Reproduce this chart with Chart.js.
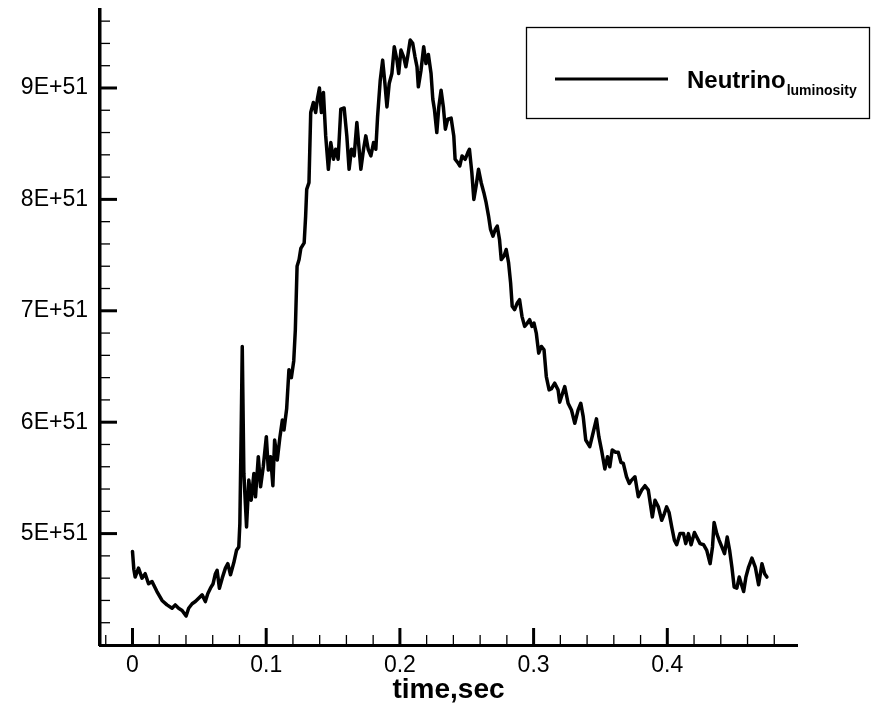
<!DOCTYPE html>
<html>
<head>
<meta charset="utf-8">
<title>Neutrino luminosity</title>
<script src="https://cdn.jsdelivr.net/npm/chart.js@4.4.1/dist/chart.umd.min.js"></script>
<style>
  html, body { margin: 0; padding: 0; background: #fff; }
  #wrap { width: 873px; height: 704px; position: relative; }
</style>
</head>
<body>
<div id="wrap"><canvas id="chart"></canvas></div>
<script>
// time in seconds, luminosity in units of 1E+51
const timeSec = [
  0.0000, 0.0010, 0.0020, 0.0045, 0.0071, 0.0095, 0.0120, 0.0146, 0.0158, 0.0183,
  0.0221, 0.0258, 0.0296, 0.0320, 0.0345, 0.0371, 0.0401, 0.0420, 0.0446, 0.0470,
  0.0495, 0.0521, 0.0545, 0.0563, 0.0583, 0.0603, 0.0620, 0.0633, 0.0650, 0.0671,
  0.0695, 0.0713, 0.0733, 0.0758, 0.0778, 0.0795, 0.0803, 0.0813, 0.0821, 0.0833,
  0.0853, 0.0870, 0.0888, 0.0908, 0.0920, 0.0941, 0.0958, 0.0978, 0.1001, 0.1016,
  0.1033, 0.1050, 0.1063, 0.1083, 0.1103, 0.1121, 0.1133, 0.1153, 0.1170, 0.1188,
  0.1206, 0.1218, 0.1231, 0.1246, 0.1259, 0.1284, 0.1295, 0.1303, 0.1320, 0.1333,
  0.1353, 0.1370, 0.1383, 0.1398, 0.1413, 0.1428, 0.1445, 0.1465, 0.1483, 0.1503,
  0.1520, 0.1538, 0.1558, 0.1583, 0.1603, 0.1620, 0.1638, 0.1658, 0.1678, 0.1695,
  0.1708, 0.1728, 0.1745, 0.1763, 0.1783, 0.1803, 0.1820, 0.1833, 0.1853, 0.1871,
  0.1888, 0.1903, 0.1920, 0.1940, 0.1958, 0.1978, 0.1991, 0.2008, 0.2028, 0.2045,
  0.2058, 0.2077, 0.2096, 0.2113, 0.2128, 0.2138, 0.2158, 0.2178, 0.2195, 0.2213,
  0.2233, 0.2246, 0.2258, 0.2276, 0.2291, 0.2308, 0.2325, 0.2340, 0.2358, 0.2383,
  0.2403, 0.2413, 0.2433, 0.2448, 0.2465, 0.2488, 0.2508, 0.2520, 0.2538, 0.2553,
  0.2570, 0.2588, 0.2608, 0.2628, 0.2645, 0.2663, 0.2678, 0.2696, 0.2713, 0.2728,
  0.2745, 0.2758, 0.2778, 0.2795, 0.2813, 0.2828, 0.2840, 0.2858, 0.2878, 0.2895,
  0.2913, 0.2933, 0.2953, 0.2970, 0.2988, 0.3003, 0.3020, 0.3038, 0.3058, 0.3078,
  0.3095, 0.3116, 0.3133, 0.3158, 0.3183, 0.3195, 0.3233, 0.3258, 0.3283, 0.3308,
  0.3333, 0.3353, 0.3371, 0.3390, 0.3420, 0.3446, 0.3470, 0.3488, 0.3508, 0.3533,
  0.3553, 0.3570, 0.3588, 0.3613, 0.3633, 0.3653, 0.3671, 0.3695, 0.3716, 0.3733,
  0.3758, 0.3783, 0.3808, 0.3833, 0.3858, 0.3888, 0.3908, 0.3933, 0.3958, 0.3978,
  0.3995, 0.4013, 0.4033, 0.4053, 0.4070, 0.4095, 0.4121, 0.4138, 0.4158, 0.4178,
  0.4203, 0.4220, 0.4245, 0.4271, 0.4295, 0.4320, 0.4338, 0.4350, 0.4370, 0.4388,
  0.4408, 0.4428, 0.4448, 0.4466, 0.4483, 0.4500, 0.4520, 0.4538, 0.4553, 0.4571,
  0.4588, 0.4608, 0.4633, 0.4658, 0.4683, 0.4708, 0.4728, 0.4745
]
const lumE51 = [
  4.84, 4.68, 4.61, 4.69, 4.60, 4.64, 4.55, 4.57, 4.54, 4.48,
  4.40, 4.36, 4.33, 4.36, 4.33, 4.31, 4.26, 4.33, 4.37, 4.39,
  4.42, 4.45, 4.39, 4.46, 4.51, 4.55, 4.64, 4.67, 4.51, 4.60,
  4.69, 4.73, 4.63, 4.74, 4.85, 4.88, 5.09, 5.93, 6.68, 5.54,
  5.06, 5.48, 5.30, 5.54, 5.33, 5.69, 5.42, 5.60, 5.87, 5.57,
  5.69, 5.43, 5.84, 5.66, 5.87, 6.02, 5.93, 6.12, 6.47, 6.40,
  6.55, 6.83, 7.40, 7.46, 7.56, 7.61, 7.85, 8.09, 8.15, 8.78,
  8.87, 8.78, 8.90, 9.00, 8.78, 8.96, 8.57, 8.27, 8.51, 8.36,
  8.45, 8.36, 8.81, 8.82, 8.57, 8.27, 8.45, 8.39, 8.69, 8.45,
  8.27, 8.45, 8.57, 8.45, 8.39, 8.51, 8.45, 8.74, 9.07, 9.25,
  9.04, 8.83, 9.04, 9.13, 9.37, 9.25, 9.13, 9.34, 9.28, 9.19,
  9.28, 9.43, 9.40, 9.28, 9.19, 9.01, 9.16, 9.37, 9.22, 9.30,
  9.13, 8.90, 8.81, 8.60, 8.83, 8.98, 8.83, 8.63, 8.72, 8.73,
  8.57, 8.36, 8.33, 8.30, 8.39, 8.36, 8.42, 8.45, 8.24, 8.00,
  8.12, 8.27, 8.15, 8.06, 7.97, 7.85, 7.73, 7.67, 7.73, 7.76,
  7.64, 7.46, 7.49, 7.55, 7.43, 7.25, 7.04, 7.01, 7.07, 7.10,
  6.95, 6.86, 6.89, 6.92, 6.86, 6.89, 6.80, 6.62, 6.68, 6.65,
  6.41, 6.29, 6.30, 6.35, 6.29, 6.18, 6.32, 6.17, 6.11, 5.99,
  6.11, 6.17, 6.05, 5.84, 5.78, 5.91, 6.03, 5.87, 5.75, 5.58,
  5.69, 5.60, 5.75, 5.73, 5.73, 5.64, 5.63, 5.51, 5.45, 5.48,
  5.51, 5.33, 5.39, 5.43, 5.39, 5.15, 5.30, 5.24, 5.12, 5.18,
  5.24, 5.19, 5.06, 4.94, 4.90, 5.00, 5.00, 4.91, 5.00, 4.90,
  5.01, 4.97, 4.91, 4.90, 4.85, 4.73, 4.88, 5.10, 5.00, 4.94,
  4.88, 4.82, 4.97, 4.85, 4.70, 4.52, 4.51, 4.61, 4.55, 4.48,
  4.61, 4.70, 4.78, 4.70, 4.54, 4.73, 4.64, 4.61
]
const xTicks = [0, 0.1, 0.2, 0.3, 0.4]
const yTicks = [5, 6, 7, 8, 9]
const xTitle = 'time,sec'
const seriesName = 'Neutrino'
const seriesSub = 'luminosity'

const FONT = "'Liberation Sans', Arial, Helvetica, sans-serif"

// tecplot style ticks: drawn inside the plot, 4 minor ticks between majors
const innerTicks = {
  id: 'innerTicks',
  afterDraw(chart) {
    const {ctx, scales: {x, y}} = chart
    const left = x.left
    const bottom = y.bottom
    const seg = (x0, y0, x1, y1, w) => {
      ctx.lineWidth = w
      ctx.beginPath()
      ctx.moveTo(x0, y0)
      ctx.lineTo(x1, y1)
      ctx.stroke()
    }
    ctx.save()
    ctx.strokeStyle = '#000'
    ctx.lineCap = 'butt'
    xTicks.forEach(v => {
      const px = x.getPixelForValue(v)
      seg(px, bottom, px, bottom - 17, 3)
    })
    for (let i = -1; i <= 24; i++) {
      if (i % 5 === 0) continue
      const px = x.getPixelForValue(i / 50)
      seg(px, bottom, px, bottom - 10, 1.3)
    }
    yTicks.forEach(v => {
      const py = y.getPixelForValue(v)
      seg(left, py, left + 17, py, 3)
    })
    for (let i = 21; i <= 48; i++) {
      if (i % 5 === 0) continue
      const py = y.getPixelForValue(i / 5)
      seg(left, py, left + 10, py, 1.3)
    }
    ctx.restore()
  }
}

const subLegend = {
  id: 'subLegend',
  afterDraw(chart) {
    const {ctx} = chart
    ctx.save()
    ctx.fillStyle = '#fff'
    ctx.fillRect(526, 27, 344, 92)
    ctx.strokeStyle = '#000'
    ctx.lineWidth = 1.3
    ctx.strokeRect(526.5, 27.5, 343, 91)
    ctx.lineWidth = 3
    ctx.beginPath()
    ctx.moveTo(555, 79)
    ctx.lineTo(668, 79)
    ctx.stroke()
    ctx.fillStyle = '#000'
    ctx.textBaseline = 'alphabetic'
    ctx.font = 'bold 24px ' + FONT
    ctx.fillText(seriesName, 687, 88)
    const w = ctx.measureText(seriesName).width
    ctx.font = 'bold 14px ' + FONT
    ctx.fillText(seriesSub, 687 + w + 1, 95)
    ctx.restore()
  }
}

const noEdgePadding = scale => {
  scale.paddingTop = 0
  scale.paddingBottom = 0
  scale.paddingLeft = 0
  scale.paddingRight = 0
}

new Chart(document.getElementById('chart'), {
  type: 'line',
  data: {
    datasets: [{
      label: seriesName + seriesSub,
      data: timeSec.map((t, i) => ({x: t, y: lumE51[i]})),
      borderColor: '#000',
      borderWidth: 3.5,
      borderJoinStyle: 'round',
      borderCapStyle: 'round',
      pointRadius: 0,
      tension: 0,
      fill: false
    }]
  },
  options: {
    responsive: true,
    maintainAspectRatio: false,
    animation: false,
    devicePixelRatio: 1,
    layout: {padding: {top: 10, right: 76, bottom: 0, left: 0}},
    plugins: {
      legend: {display: false},
      tooltip: {enabled: false}
    },
    scales: {
      x: {
        type: 'linear',
        min: -0.0243,
        max: 0.497,
        afterBuildTicks: scale => { scale.ticks = xTicks.map(v => ({value: v})) },
        afterFit: scale => { scale.height = 59; noEdgePadding(scale) },
        grid: {drawOnChartArea: false, drawTicks: false},
        border: {display: true, color: '#000', width: 3},
        ticks: {
          color: '#000',
          padding: 7,
          maxRotation: 0,
          font: {family: FONT, size: 23},
          callback: v => String(v)
        },
        title: {
          display: true,
          text: xTitle,
          color: '#000',
          padding: {top: 0, bottom: 0},
          font: {family: FONT, size: 28, weight: 'bold', lineHeight: 1}
        }
      },
      y: {
        type: 'linear',
        min: 4.0,
        max: 9.7,
        afterBuildTicks: scale => { scale.ticks = yTicks.map(v => ({value: v})) },
        afterFit: scale => { scale.width = 100; noEdgePadding(scale) },
        grid: {drawOnChartArea: false, drawTicks: false},
        border: {display: true, color: '#000', width: 3.5},
        ticks: {
          color: '#000',
          padding: 12,
          font: {family: FONT, size: 23},
          callback: v => v + 'E+51'
        }
      }
    }
  },
  plugins: [innerTicks, subLegend]
})
</script>
</body>
</html>
